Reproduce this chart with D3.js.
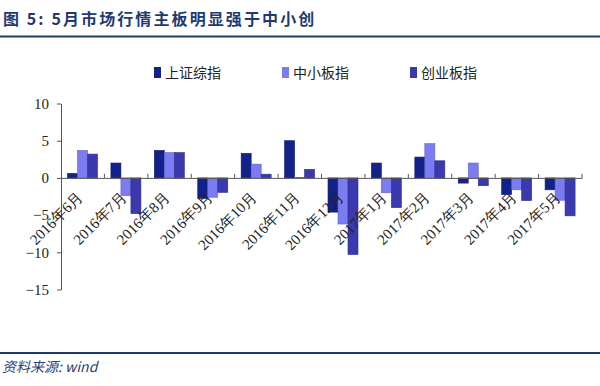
<!DOCTYPE html>
<html>
<head>
<meta charset="utf-8">
<script src="https://cdn.jsdelivr.net/npm/d3@7"></script>
<style>
  body { margin: 0; background: #fff; }
  svg { display: block; }
</style>
</head>
<body>
<svg id="chart" width="600" height="386"></svg>
<script>
// 5月市场行情 — 三大指数月度涨跌幅 (%)
const categories = ["2016年6月","2016年7月","2016年8月","2016年9月","2016年10月","2016年11月",
                    "2016年12月","2017年1月","2017年2月","2017年3月","2017年4月","2017年5月"];
const seriesNames = ["上证综指","中小板指","创业板指"];
const shIndex  = [0.6, 2.0, 3.7, -2.75, 3.3, 5.0, -4.6, 2.0, 2.8, -0.7, -2.25, -1.6];
const smeIndex = [3.7, -2.4, 3.4, -2.6, 1.85, 0.05, -6.2, -2.0, 4.6, 2.0, -1.6, -3.0];
const gemIndex = [3.2, -4.8, 3.4, -1.95, 0.5, 1.15, -10.3, -4.0, 2.3, -1.05, -3.05, -5.1];
const yTicks = [10, 5, 0, -5, -10, -15];

const colors = ["#12228a", "#7b7bf2", "#3b39ae"];
const seriesValues = [shIndex, smeIndex, gemIndex];

const svg = d3.select("#chart");
const navy = "#1f3a70";

// title + rules
svg.append("text")
    .attr("x", 3).attr("y", 25)
    .attr("font-family", "'Noto Sans CJK SC', sans-serif")
    .attr("font-size", 16).attr("font-weight", "bold")
    .attr("letter-spacing", 2.1)
    .attr("fill", navy)
    .text("图 5: 5月市场行情主板明显强于中小创");
svg.append("line").attr("x1", 0).attr("x2", 600).attr("y1", 36.5).attr("y2", 36.5)
    .attr("stroke", navy).attr("stroke-width", 2);
svg.append("line").attr("x1", 0).attr("x2", 600).attr("y1", 353).attr("y2", 353)
    .attr("stroke", navy).attr("stroke-width", 2);
svg.append("text")
    .attr("x", 2).attr("y", 372)
    .attr("font-family", "'Noto Sans CJK SC', sans-serif")
    .attr("font-size", 14).attr("font-style", "italic")
    .attr("fill", "#2a3f6e")
    .text("资料来源: wind");

// scales
const x = d3.scaleBand().domain(categories).range([61, 582]).paddingInner(0).paddingOuter(0);
const y = d3.scaleLinear().domain([-15, 10]).range([289.5, 103.5]);
const inner = d3.scaleBand().domain(d3.range(3)).range([0, 30]);
const groupOffset = 6.5;

// y axis
const yAxis = svg.append("g").attr("transform", "translate(61,0)")
    .call(d3.axisLeft(y).tickValues(yTicks).tickSize(4).tickSizeOuter(0).tickFormat(d3.format("d")));
yAxis.select(".domain").attr("stroke", "#555");
yAxis.selectAll(".tick line").attr("stroke", "#555");
yAxis.selectAll(".tick text")
    .attr("x", -12)
    .attr("font-family", "'Liberation Serif', serif")
    .attr("font-size", 15).attr("fill", "#222");

// bars
const gBars = svg.append("g");
seriesValues.forEach((vals, s) => {
    gBars.selectAll(".s" + s)
        .data(vals)
        .join("rect")
        .attr("x", (d, i) => x(categories[i]) + groupOffset + inner(s))
        .attr("width", inner.bandwidth())
        .attr("y", d => y(Math.max(0, d)))
        .attr("height", d => Math.abs(y(d) - y(0)))
        .attr("fill", colors[s])
        .attr("stroke", d3.color(colors[s]).darker(0.6))
        .attr("stroke-width", 0.6);
});

// x axis at zero
const xAxis = svg.append("g").attr("transform", `translate(0,${y(0)})`)
    .call(d3.axisBottom(x).tickSize(0).tickFormat(""));
xAxis.select(".domain").attr("stroke", "#555");
// category separator ticks
svg.append("g").selectAll("line")
    .data(categories.slice(1).concat(["end"]))
    .join("line")
    .attr("x1", (d, i) => i < categories.length - 1 ? x(d) : 582)
    .attr("x2", (d, i) => i < categories.length - 1 ? x(d) : 582)
    .attr("y1", y(0) - 4).attr("y2", y(0))
    .attr("stroke", "#555");

// rotated category labels
svg.append("g").selectAll("text")
    .data(categories)
    .join("text")
    .attr("transform", d => `translate(${x(d) + x.bandwidth() / 2 + 1},${y(0) + 20}) rotate(-45)`)
    .attr("text-anchor", "end")
    .attr("font-family", "'Liberation Serif', serif")
    .attr("font-size", 15)
    .attr("fill", "#222")
    .text(d => d);

// legend
const legendX = [154, 282, 410];
const legend = svg.append("g");
seriesNames.forEach((name, i) => {
    legend.append("rect")
        .attr("x", legendX[i]).attr("y", 67)
        .attr("width", 7).attr("height", 11)
        .attr("fill", colors[i]);
    legend.append("text")
        .attr("x", legendX[i] + 11).attr("y", 78)
        .attr("font-family", "'Noto Sans CJK SC', sans-serif")
        .attr("font-size", 14)
        .attr("fill", "#222")
        .text(name);
});
</script>
</body>
</html>
